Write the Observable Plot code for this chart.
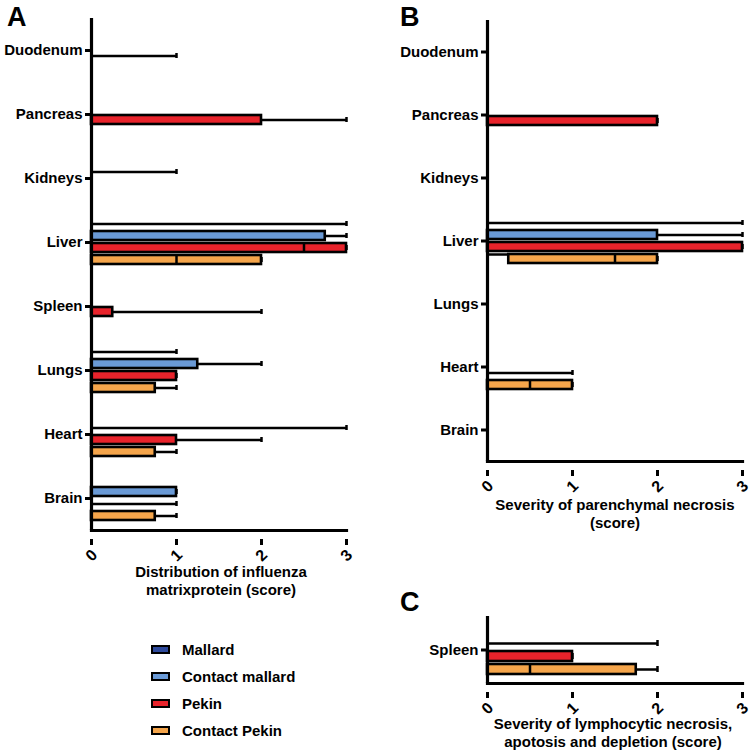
<!DOCTYPE html>
<html>
<head>
<meta charset="utf-8">
<script src="https://cdn.jsdelivr.net/npm/d3@7"></script>
<script src="https://cdn.jsdelivr.net/npm/@observablehq/plot@0.6"></script>
<style>
  html, body { margin: 0; padding: 0; background: #fff; }
  #root { position: relative; width: 750px; height: 755px; font-family: "Liberation Sans", Arial, sans-serif; font-weight: bold; color: #000; }
  .abs { position: absolute; }
  .letter { font-size: 27px; line-height: 1; }
  .title { font-size: 15px; line-height: 18px; text-align: center; white-space: nowrap; transform: translateX(-50%); }
  .leg { display: flex; align-items: center; font-size: 15px; height: 20px; }
  .sw { width: 15px; height: 5px; border: 2.5px solid #000; margin-right: 12px; }
</style>
</head>
<body>
<div id="root"></div>
<script>
// ---------- data ----------
const seriesNames = ["Mallard", "Contact mallard", "Pekin", "Contact Pekin"];
const seriesColors = ["#2e4a9c", "#6a9ad6", "#e8232b", "#f5a54b"];

// Panel A: distribution of influenza matrixprotein (median, min, max)
const catsA = ["Duodenum", "Pancreas", "Kidneys", "Liver", "Spleen", "Lungs", "Heart", "Brain"];
const medA_mallard   = [0, 0, 0, 0, 0, 0, 0, 0];
const minA_mallard   = [0, 0, 0, 0, 0, 0, 0, 0];
const maxA_mallard   = [0, 0, 0, 3, 0, 1, 0, 0];
const medA_cmallard  = [0, 0, 0, 2.75, 0, 1.25, 0, 1];
const minA_cmallard  = [0, 0, 0, 0, 0, 0, 0, 0];
const maxA_cmallard  = [0, 0, 1, 3, 0, 2, 3, 1];
const medA_pekin     = [0, 2, 0, 3, 0.25, 1, 1, 0];
const minA_pekin     = [0, 0, 0, 2.5, 0, 0, 0, 0];
const maxA_pekin     = [1, 3, 0, 3, 2, 1, 2, 1];
const medA_cpekin    = [0, 0, 0, 2, 0, 0.75, 0.75, 0.75];
const minA_cpekin    = [0, 0, 0, 1, 0, 0, 0, 0];
const maxA_cpekin    = [0, 0, 0, 2, 0, 1, 1, 1];

// Panel B: severity of parenchymal necrosis
const catsB = ["Duodenum", "Pancreas", "Kidneys", "Liver", "Lungs", "Heart", "Brain"];
const medB_mallard   = [0, 0, 0, 0, 0, 0, 0];
const minB_mallard   = [0, 0, 0, 0, 0, 0, 0];
const maxB_mallard   = [0, 0, 0, 3, 0, 0, 0];
const medB_cmallard  = [0, 0, 0, 2, 0, 0, 0];
const minB_cmallard  = [0, 0, 0, 0, 0, 0, 0];
const maxB_cmallard  = [0, 0, 0, 3, 0, 0, 0];
const medB_pekin     = [0, 2, 0, 3, 0, 0, 0];
const minB_pekin     = [0, 0, 0, 0, 0, 0, 0];
const maxB_pekin     = [0, 2, 0, 3, 0, 1, 0];
const medB_cpekin    = [0, 0, 0, 2, 0, 1, 0];
const minB_cpekin    = [0, 0, 0, 1.5, 0, 0.5, 0];
const maxB_cpekin    = [0, 0, 0, 2, 0, 1, 0];
const startB_cpekin  = [0, 0, 0, 0.25, 0, 0, 0];

// Panel C: severity of lymphocytic necrosis, apoptosis and depletion
const catsC = ["Spleen"];
const medC_mallard  = [0], minC_mallard  = [0], maxC_mallard  = [0];
const medC_cmallard = [0], minC_cmallard = [0], maxC_cmallard = [2];
const medC_pekin    = [1], minC_pekin    = [0], maxC_pekin    = [1];
const medC_cpekin   = [1.75], minC_cpekin = [0.5], maxC_cpekin = [2];

const xTicks = [0, 1, 2, 3];

// ---------- build tables ----------
function table(cats, seriesData) {
  const rows = [];
  seriesData.forEach((s, si) => {
    cats.forEach((c, i) => {
      rows.push({cat: c, series: seriesNames[si], med: s.med[i], min: s.min[i], max: s.max[i], start: s.start ? s.start[i] : 0});
    });
  });
  return rows;
}
const rowsA = table(catsA, [
  {med: medA_mallard, min: minA_mallard, max: maxA_mallard},
  {med: medA_cmallard, min: minA_cmallard, max: maxA_cmallard},
  {med: medA_pekin, min: minA_pekin, max: maxA_pekin},
  {med: medA_cpekin, min: minA_cpekin, max: maxA_cpekin}
]);
const rowsB = table(catsB, [
  {med: medB_mallard, min: minB_mallard, max: maxB_mallard},
  {med: medB_cmallard, min: minB_cmallard, max: maxB_cmallard},
  {med: medB_pekin, min: minB_pekin, max: maxB_pekin},
  {med: medB_cpekin, min: minB_cpekin, max: maxB_cpekin, start: startB_cpekin}
]);
const rowsC = table(catsC, [
  {med: medC_mallard, min: minC_mallard, max: maxC_mallard},
  {med: medC_cmallard, min: minC_cmallard, max: maxC_cmallard},
  {med: medC_pekin, min: minC_pekin, max: maxC_pekin},
  {med: medC_cpekin, min: minC_cpekin, max: maxC_cpekin}
]);

const FONT = '"Liberation Sans", Arial, sans-serif';

function panel(cats, rows, o) {
  return Plot.plot({
    width: o.width, height: o.height,
    marginLeft: o.ml, marginRight: o.mr, marginTop: o.mt, marginBottom: o.mb,
    style: {fontFamily: FONT, fontWeight: "bold", fontSize: "15px", color: "#000", background: "transparent", overflow: "visible"},
    x: {domain: [0, 3], axis: null},
    fy: {domain: cats, padding: 0, axis: null, label: null},
    y: {domain: seriesNames, axis: null, paddingInner: 0.22, paddingOuter: 0.6},
    color: {domain: seriesNames, range: seriesColors},
    marks: [
      // whisker (range)
      Plot.ruleY(rows, {fy: "cat", y: "series", x1: "min", x2: "max", stroke: "#000", strokeWidth: 2.5}),
      // cap at max
      Plot.tickX(rows.filter(d => d.max > 0), {fy: "cat", y: "series", x: "max", stroke: "#000", strokeWidth: 2.5, insetTop: 2, insetBottom: 2}),
      // median bar
      Plot.barX(rows.filter(d => d.med > 0), {fy: "cat", y: "series", x1: "start", x2: "med", fill: "series", stroke: "#000", strokeWidth: 2.6}),
      // line left of a floating bar
      Plot.ruleY(rows.filter(d => d.start > 0), {fy: "cat", y: "series", x1: 0, x2: "start", stroke: "#000", strokeWidth: 2.5, dy: -4.5}),
      // cap at min (inside bar)
      Plot.tickX(rows.filter(d => d.min > 0), {fy: "cat", y: "series", x: "min", stroke: "#000", strokeWidth: 2.5}),
      // y axis line
      Plot.ruleX([0], {stroke: "#000", strokeWidth: 3.2}),
      Plot.axisFy({anchor: "left", tickSize: 6, tickPadding: 3, strokeWidth: 3, fontSize: 15, fontWeight: "bold", label: null}),
      // x axis
      Plot.frame({anchor: "bottom", facetAnchor: "bottom", stroke: "#000", strokeWidth: 3.2}),
      Plot.axisX({ticks: xTicks, tickSize: 6, strokeWidth: 3, tickRotate: -45, textAnchor: "middle", tickPadding: 10, dy: 9, fontSize: 16, fontWeight: "bold", label: null, tickFormat: d => String(d)})
    ]
  });
}

const root = document.getElementById("root");
function place(el, left, top) {
  el.style.position = "absolute";
  el.style.left = left + "px";
  el.style.top = top + "px";
  root.appendChild(el);
}

place(panel(catsA, rowsA, {width: 360, height: 600, ml: 91, mr: 14, mt: 18, mb: 70}), 0, 0);
place(panel(catsB, rowsB, {width: 375, height: 480, ml: 112, mr: 8, mt: 18, mb: 17}), 375, 0);
place(panel(catsC, rowsC, {width: 375, height: 140, ml: 112, mr: 8, mt: 36, mb: 37}), 375, 580);

function div(cls, text, left, top) {
  const d = document.createElement("div");
  d.className = "abs " + cls;
  d.textContent = text;
  d.style.left = left + "px";
  d.style.top = top + "px";
  root.appendChild(d);
  return d;
}
div("letter", "A", 7, 4);
div("letter", "B", 400, 4);
div("letter", "C", 400, 589);

div("title", "Distribution of influenza", 221, 563);
div("title", "matrixprotein (score)", 221, 581);
div("title", "Severity of parenchymal necrosis", 615, 496);
div("title", "(score)", 615, 514);
div("title", "Severity of lymphocytic necrosis,", 613, 715);
div("title", "apotosis and depletion (score)", 613, 733);

// legend
seriesNames.forEach((name, i) => {
  const row = document.createElement("div");
  row.className = "abs leg";
  row.style.left = "151px";
  row.style.top = (639 + i * 27.3) + "px";
  const sw = document.createElement("div");
  sw.className = "sw";
  sw.style.background = seriesColors[i];
  const t = document.createElement("span");
  t.textContent = name;
  row.appendChild(sw);
  row.appendChild(t);
  root.appendChild(row);
});
</script>
</body>
</html>
